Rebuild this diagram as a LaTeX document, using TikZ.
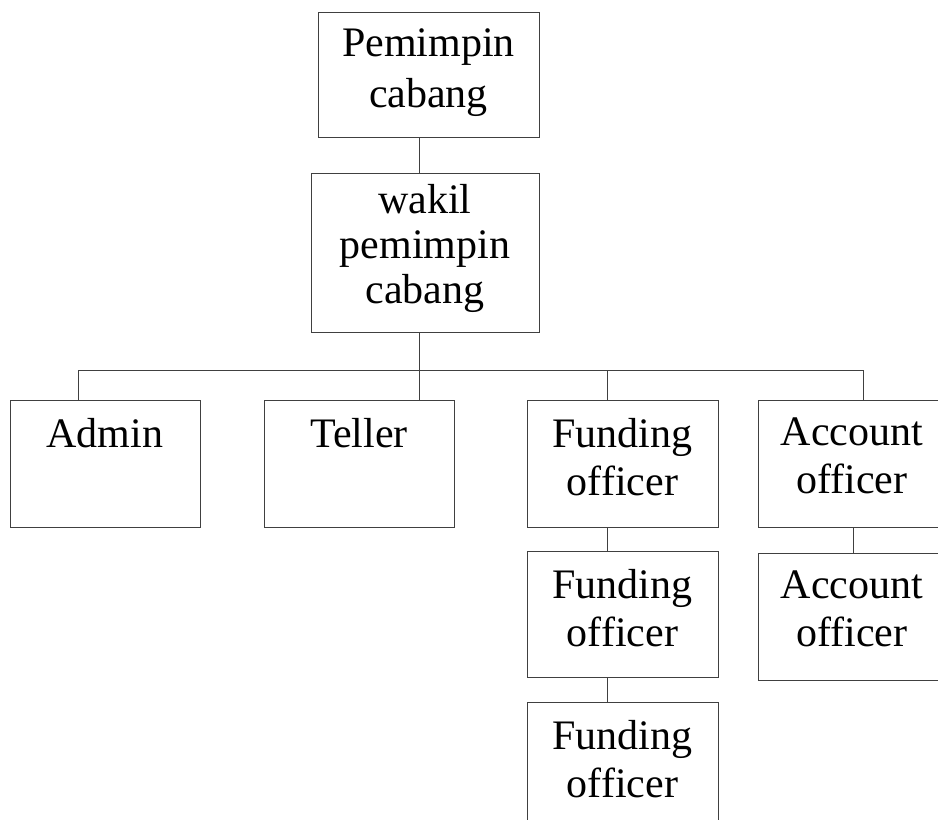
\documentclass[tikz,border=0pt]{standalone}
\usepackage{fontspec}
\setmainfont{Liberation Serif}
\tikzset{
  unit/.style={draw=black!75, line width=1pt, inner sep=0pt},
  caption/.style={anchor=north, align=center, inner sep=0pt, font=\fontsize{42}{48}\selectfont},
  link/.style={draw=black!75, line width=1pt}
}
\begin{document}
\begin{tikzpicture}[x=1pt,y=-1pt]
\useasboundingbox (0,0) rectangle (938,820);

\node[unit, minimum width=221pt, minimum height=125pt] (pc) at (428.5,74.5) {};
\node[unit, minimum width=228pt, minimum height=159pt] (wpc) at (425,252.5) {};
\node[unit, minimum width=190pt, minimum height=127pt] (admin) at (105,463.5) {};
\node[unit, minimum width=190pt, minimum height=127pt] (teller) at (359,463.5) {};
\node[unit, minimum width=191pt, minimum height=127pt] (fo1) at (622.5,463.5) {};
\node[unit, minimum width=191pt, minimum height=126pt] (fo2) at (622.5,614) {};
\node[unit, minimum width=191pt, minimum height=128pt] (fo3) at (622.5,766) {};
\node[unit, minimum width=188pt, minimum height=127pt] (ao1) at (852,463.5) {};
\node[unit, minimum width=188pt, minimum height=127pt] (ao2) at (852,616.5) {};

\node[caption] (pc-t) at ([yshift=-17pt]pc.north) {Pemimpin\\[3pt]cabang};
\node[caption] (wpc-t) at ([yshift=-12pt]wpc.north) {wakil\\[-3pt]pemimpin\\[-3pt]cabang};
\node[caption] (admin-t) at ([yshift=-18.5pt]admin.north) {Admin};
\node[caption] (teller-t) at ([yshift=-18.5pt]teller.north) {Teller};
\node[caption] (fo1-t) at ([yshift=-18.5pt]fo1.north) {Funding\\officer};
\node[caption] (fo2-t) at ([yshift=-18.5pt]fo2.north) {Funding\\officer};
\node[caption] (fo3-t) at ([yshift=-18.5pt]fo3.north) {Funding\\officer};
\node[caption] (ao1-t) at ([yshift=-18.5pt]ao1.north) {Account\\officer};
\node[caption] (ao2-t) at ([yshift=-18.5pt]ao2.north) {Account\\officer};

\coordinate (spine) at (419,370);
\coordinate (busL) at (78,370);
\coordinate (busR) at (863,370);
\coordinate (fund) at (607,370);
\coordinate (acct) at (853,540);

\draw[link] (pc.south -| spine) -- (wpc.north -| spine);
\draw[link] (wpc.south -| spine) -- (teller.north -| spine);
\draw[link] (busL) -- (busR);
\draw[link] (busL) -- (busL |- admin.north);
\draw[link] (fund) -- (fund |- fo1.north);
\draw[link] (busR) -- (busR |- ao1.north);
\draw[link] (fo1.south -| fund) -- (fo2.north -| fund);
\draw[link] (fo2.south -| fund) -- (fo3.north -| fund);
\draw[link] (ao1.south -| acct) -- (ao2.north -| acct);
\end{tikzpicture}
\end{document}
